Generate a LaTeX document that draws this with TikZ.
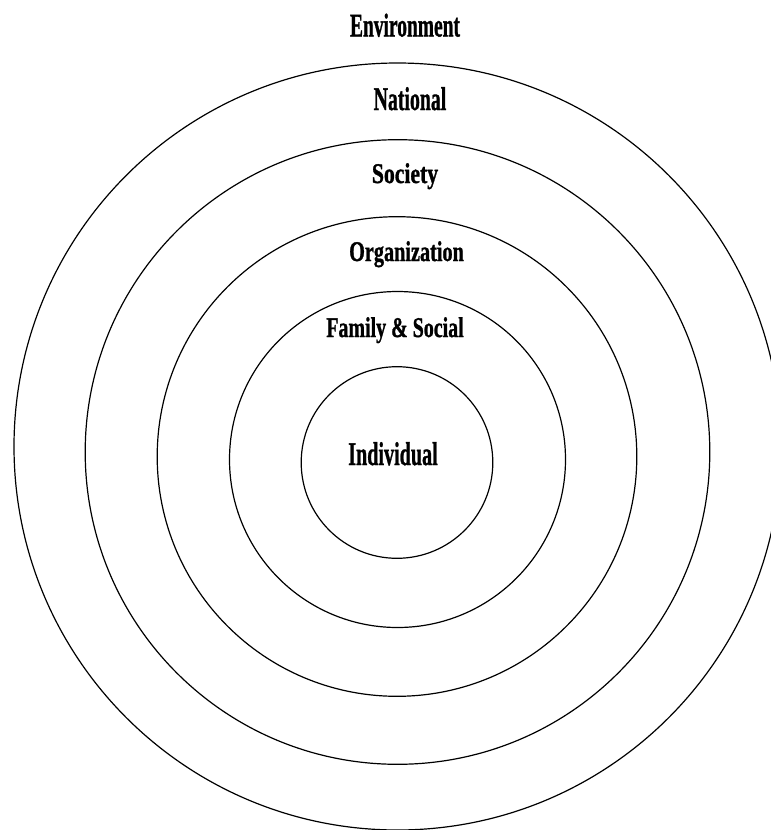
\documentclass[tikz,border=0pt]{standalone}
\usepackage{fontspec}
\setmainfont{Liberation Serif}
\newfontfamily\heavyfont[FakeBold=1.2]{Liberation Serif Bold}
\tikzset{
  ring/.style={draw=black, line width=1.2pt},
  bigtxt/.style={inner sep=0pt, anchor=base, font=\fontsize{33}{33}\heavyfont},
  smalltxt/.style={inner sep=0pt, anchor=base, font=\fontsize{28.5}{28.5}\heavyfont}
}
\begin{document}
\begin{tikzpicture}[x=1pt, y=-1pt]
\useasboundingbox (0,0) rectangle (771,830);
\draw[ring] (397.5,446.5) circle[radius=383.5];
\draw[ring] (397.5,452) circle[radius=312.3];
\draw[ring] (397,456.5) circle[radius=239.8];
\draw[ring] (397.5,459.5) circle[radius=168];
\draw[ring] (397,462.5) circle[radius=95.8];
\node[bigtxt] (env) at (405,36.5) {\scalebox{0.59}[1]{Environment}};
\node[bigtxt] (nat) at (410,110) {\scalebox{0.6}[1]{National}};
\node[smalltxt] (soc) at (405,183) {\scalebox{0.76}[1]{Society}};
\node[smalltxt] (org) at (406.5,261) {\scalebox{0.71}[1]{Organization}};
\node[smalltxt] (fam) at (395,337) {\scalebox{0.70}[1]{Family \& Social}};
\node[bigtxt] (ind) at (393,465) {\scalebox{0.61}[1]{Individual}};
\end{tikzpicture}
\end{document}
